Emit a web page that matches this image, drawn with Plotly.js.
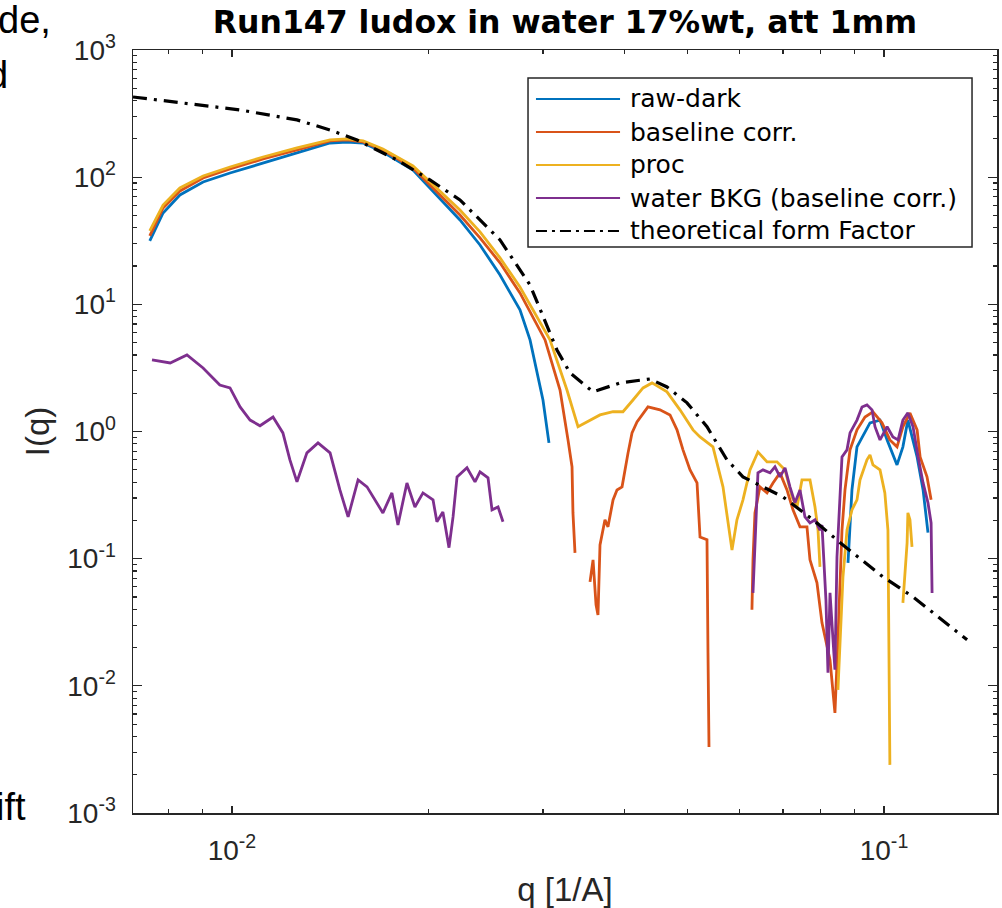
<!DOCTYPE html>
<html><head><meta charset="utf-8">
<script src="https://cdn.plot.ly/plotly-3.0.1.min.js"></script>
<style>html,body{margin:0;padding:0;background:#fff;overflow:hidden}#chart{width:1002px;height:908px}</style>
</head><body><div id="chart"></div>
<script>
// ---- data ----
const qRawDark = [0.00748,0.00784,0.00832,0.00903,0.00993,0.01116,0.01258,0.01414,0.01501,0.01589,0.01704,0.01895,0.02237,0.02401,0.02577,0.02765,0.02865,0.02999,0.03063,null,
  0.08806,0.08930,0.09090,0.09517,0.09860,0.1011,0.1047,0.1069,0.1088,0.1124,0.1148,0.1168];
const iRawDark = [31.5,52.3,72.5,91.7,107.9,129.3,155.0,185.7,189.1,185.7,157.8,113.9,46.1,29.3,17.0,9.04,5.25,1.77,0.814,null,
  0.0927,0.347,0.757,1.17,1.23,0.859,0.546,0.757,1.23,0.631,0.347,0.160];

const qBaseline = [0.00748,0.00784,0.00832,0.00903,0.00993,0.01116,0.01258,0.01414,0.01501,0.01589,0.01704,0.01895,0.02237,0.02401,0.02577,0.02765,0.03021,0.03185,0.03276,0.03323,0.03334,0.03358,
  null,
  0.03541,0.03579,0.03617,0.03642,0.03668,0.03733,0.03773,0.03841,0.03895,0.03965,0.04050,0.04107,0.04180,0.04345,0.04533,0.04697,0.04814,0.04917,0.05041,0.05167,0.05222,0.05352,0.05371,0.05390,
  null,
  0.06273,0.06296,0.06340,0.06453,0.06616,0.06757,0.06926,0.07099,0.07251,0.07433,0.07618,0.07700,0.07892,0.08033,0.08264,0.08409,0.08499,0.08621,0.08713,0.08869,0.09090,0.09351,0.09618,0.09929,0.1021,0.1047,0.1069,0.1096,0.1124,0.1136,0.1164,0.1181];
const iBaseline = [34.5,57.3,77.9,98.6,116.0,139.0,163.6,192.6,196.1,189.1,163.6,118.1,50.4,33.3,21.2,12.3,5.25,2.12,0.859,0.527,0.229,0.111,
  null,
  0.0657,0.0979,0.0433,0.0361,0.128,0.202,0.178,0.290,0.347,0.367,0.679,0.975,1.19,1.56,1.48,1.35,1.03,0.717,0.499,0.394,0.148,0.141,0.0182,0.00331,
  null,
  0.0396,0.0979,0.229,0.367,0.329,0.394,0.473,0.347,0.242,0.178,0.178,0.0979,0.0645,0.0313,0.0160,0.00613,0.0230,0.168,0.347,0.717,1.03,1.30,1.43,1.17,0.859,0.757,1.09,1.40,1.03,0.631,0.440,0.290];

const qProc = [0.00748,0.00784,0.00832,0.00903,0.00993,0.01116,0.01258,0.01414,0.01501,0.01589,
  0.01704,0.01895,0.02237,0.02401,0.02577,0.02765,0.03074,0.03264,0.03394,0.03504,
  0.03668,0.03841,0.03978,0.04121,0.04270,0.04408,0.04647,0.04865,0.05094,0.05222,
  0.05466,0.05663,0.05846,0.05949,0.06077,0.06230,0.06407,0.06616,0.06853,0.07050,
  0.07226,0.07355,0.07485,0.07700,0.07837,0.07921,0.07976,
  null,
  0.08499,0.08651,0.08775,0.08930,0.09090,0.09187,0.09416,0.09517,0.09618,0.09860,0.1003,0.1014,0.1021,
  null,
  0.1069,0.1085,0.1088,0.1096,0.1104];
const iProc = [37.8,60.4,82.3,102.2,120.3,144.1,169.7,196.1,199.7,192.6,
  166.6,122.5,55.2,37.1,23.2,13.7,5.25,2.12,1.09,1.19,
  1.35,1.43,1.43,1.77,2.20,2.41,2.05,1.48,1.03,0.907,
  0.757,0.367,0.117,0.202,0.290,0.499,0.691,0.577,0.577,0.499,
  0.306,0.255,0.416,0.416,0.255,0.168,0.0862,
  null,
  0.00930,0.0719,0.168,0.242,0.290,0.416,0.598,0.655,0.546,0.499,0.329,0.168,0.00239,
  null,
  0.0449,0.133,0.229,0.202,0.124];

const qWater = [0.00754,0.00804,0.00853,0.00903,0.00958,0.00993,0.01029,0.01066,0.01104,0.01156,
  0.01197,0.01227,0.01258,0.01303,0.01355,0.01414,0.01464,0.01507,0.01561,0.01611,
  0.01704,0.01759,0.01797,0.01855,0.01908,0.01963,0.02034,0.02062,0.02106,0.02152,
  0.02183,0.02214,0.02293,0.02359,0.02401,0.02470,0.02505,0.02559,0.02604,
  null,
  0.06296,0.06385,0.06407,0.06522,0.06686,0.06804,0.06926,0.07050,0.07174,0.07302,
  0.07433,0.07564,0.07700,0.07837,0.07976,0.08033,0.08146,0.08205,0.08264,0.08352,
  0.08409,0.08470,0.08560,0.08621,0.08775,0.08869,0.09090,0.09253,0.09416,0.09585,
  0.09687,0.09860,0.1011,0.1032,0.1051,0.1069,0.1088,0.1108,0.1128,0.1148,
  0.1168,0.1181,0.1185];
const iWater = [3.66,3.46,4.00,3.16,2.32,2.20,1.56,1.23,1.11,1.30,
  0.975,0.598,0.402,0.679,0.814,0.679,0.347,0.213,0.416,0.367,
  0.229,0.329,0.184,0.394,0.255,0.329,0.290,0.195,0.233,0.122,
  0.213,0.440,0.518,0.402,0.481,0.432,0.242,0.255,0.195,
  null,
  0.0538,0.275,0.473,0.499,0.473,0.527,0.440,0.518,0.367,0.275,
  0.347,0.213,0.191,0.202,0.168,0.184,0.0474,0.0127,0.0538,0.0230,
  0.0134,0.103,0.290,0.631,0.717,0.975,1.23,1.56,1.62,1.48,
  1.09,0.859,1.09,0.907,0.859,1.23,1.40,1.09,0.631,0.394,
  0.275,0.191,0.0538];

const qTheory = [0.00705,0.01029,0.01258,0.01414,0.01555,0.01791,0.02012,0.02237,0.02577,0.02865,0.03151,0.03299,0.03579,0.03937,0.04376,0.04647,0.04988,0.05352,0.05743,0.06077,0.07000,0.07892,0.08651,0.09965,0.1108,0.1219,0.1341];
const iTheory = [427,338,282,235,196,136.5,95.1,66.2,32.1,14.2,4.38,2.89,2.05,2.41,2.59,2.24,1.68,1.09,0.598,0.440,0.306,0.191,0.128,0.0719,0.0501,0.0342,0.0230];

const seriesNames = ['raw-dark','baseline corr.','proc','water BKG (baseline corr.)','theoretical form Factor'];
const xTickVals = [0.01, 0.1];
const xTickText = ['10<sup>-2</sup>','10<sup>-1</sup>'];
const yTickVals = [0.001,0.01,0.1,1,10,100,1000];
const yTickText = ['10<sup>-3</sup>','10<sup>-2</sup>','10<sup>-1</sup>','10<sup>0</sup>','10<sup>1</sup>','10<sup>2</sup>','10<sup>3</sup>'];
const titleText = 'Run147 ludox in water 17%wt, att 1mm';
const xTitle = 'q [1/A]';
const yTitle = 'I(q)';

// ---- styling ----
const colors = ['#0072BD','#D95319','#EDB120','#7E2F8E','#000000'];
const dashes = ['solid','solid','solid','solid','14px,7px,3px,7px'];
const widths = [2.8,2.8,2.8,2.8,3.2];
const xs = [qRawDark,qBaseline,qProc,qWater,qTheory];
const ys = [iRawDark,iBaseline,iProc,iWater,iTheory];

const traces = xs.map((x,k)=>({
  type:'scatter', mode:'lines', x:x, y:ys[k], name:seriesNames[k],
  line:{color:colors[k], width:widths[k], dash:dashes[k]},
  connectgaps:false, showlegend:false, hoverinfo:'skip'
}));

function minorVals(lo, hi){
  const v=[]; for(let e=lo;e<=hi;e++){for(let m=2;m<=9;m++){v.push(m*Math.pow(10,e));}} return v;
}
const axCol = '#262626';
const sans = 'Liberation Sans, Arial, sans-serif';
const tickFont = {family:sans, size:28, color:axCol};

// manual legend (MATLAB style box)
const L = {x0:0.4572, x1:0.9711, y0:0.7418, y1:0.9633, lx0:0.4664, lx1:0.5637, tx:0.5729,
           rows:[0.9358,0.8925,0.8493,0.8060,0.7628]};
const shapes = [{type:'rect', xref:'paper', yref:'paper', x0:L.x0, x1:L.x1, y0:L.y0, y1:L.y1,
  line:{color:axCol, width:1.5}, fillcolor:'#ffffff', layer:'above'}];
const annotations = [];
seriesNames.forEach((n,k)=>{
  shapes.push({type:'line', xref:'paper', yref:'paper', x0:L.lx0, x1:L.lx1, y0:L.rows[k], y1:L.rows[k],
    line:{color:colors[k], width:k===4?2.2:2, dash:k===4?'11px,5px,3px,5px':'solid'}, layer:'above'});
  annotations.push({xref:'paper', yref:'paper', x:L.tx, y:L.rows[k], xanchor:'left', yanchor:'middle',
    text:n, showarrow:false, font:{family:'DejaVu Sans', size:25, color:'#000'}});
});
// fragments of surrounding slide text visible at the left edge
const frag = {family:sans, size:38, color:'#000'};
annotations.push({xref:'paper', yref:'paper', x:-0.0925, y:1.0393, xanchor:'right', yanchor:'middle', text:'de,', showarrow:false, font:frag});
annotations.push({xref:'paper', yref:'paper', x:-0.1424, y:0.9672, xanchor:'right', yanchor:'middle', text:'d', showarrow:false, font:frag});
annotations.push({xref:'paper', yref:'paper', x:-0.1215, y:0.0079, xanchor:'right', yanchor:'middle', text:'ift', showarrow:false, font:frag});

const layout = {
  width:1002, height:908, paper_bgcolor:'#fff', plot_bgcolor:'#fff',
  margin:{l:133, r:5, t:50, b:95, pad:0},
  title:{text:titleText, font:{family:'DejaVu Sans', size:31.5, weight:'bold', color:'#000'},
         x:0.5, xref:'paper', xanchor:'center', y:1-22/908, yref:'container', yanchor:'middle'},
  xaxis:{type:'log', range:[-2.1518,-0.8267], tickmode:'array', tickvals:xTickVals, ticktext:xTickText,
    ticks:'inside', ticklen:7, tickwidth:1.3, tickcolor:axCol, showline:true, linecolor:axCol, linewidth:1.5,
    mirror:'allticks', showgrid:false, zeroline:false, tickfont:tickFont, ticklabelstandoff:12,
    minor:{tickmode:'array', tickvals:minorVals(-3,-1), ticks:'inside', ticklen:4, tickwidth:1.2, tickcolor:axCol, showgrid:false},
    title:{text:xTitle, font:{family:sans, size:33, color:axCol}, standoff:16}},
  yaxis:{type:'log', range:[-3,3], tickmode:'array', tickvals:yTickVals, ticktext:yTickText,
    ticks:'inside', ticklen:9, tickwidth:1.3, tickcolor:axCol, showline:true, linecolor:axCol, linewidth:1.5,
    mirror:'allticks', showgrid:false, zeroline:false, tickfont:tickFont, ticklabelstandoff:10,
    minor:{tickmode:'array', tickvals:minorVals(-3,2), ticks:'inside', ticklen:4, tickwidth:1.2, tickcolor:axCol, showgrid:false},
    title:{text:yTitle, font:{family:sans, size:33, color:axCol}, standoff:8}},
  shapes:shapes, annotations:annotations, showlegend:false
};
Plotly.newPlot('chart', traces, layout, {staticPlot:true, displayModeBar:false});
</script></body></html>
